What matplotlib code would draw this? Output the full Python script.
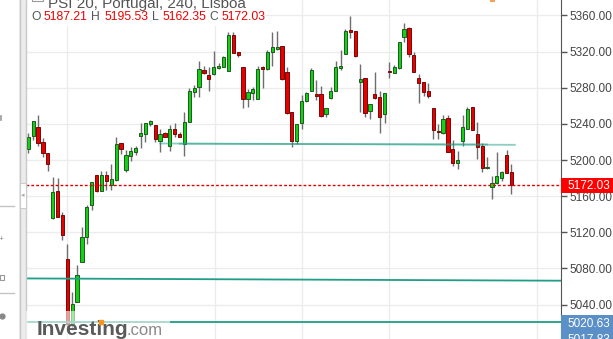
import numpy as np
import matplotlib.pyplot as plt
from matplotlib.patches import Rectangle
import matplotlib.transforms as mtransforms

plt.rcParams['font.family'] = ['Liberation Sans', 'DejaVu Sans']

# PSI 20, 240 min candles (O, H, L, C)
opens = [5211.8, 5227.1, 5236.2, 5219.4, 5207.4, 5136.2, 5165.7, 5138.8, 5090.2, 5018.0,
         5042.6, 5087.5, 5115.2, 5150.2, 5183.1, 5166.0, 5183.1, 5172.0, 5177.9, 5218.5,
         5188.9, 5204.4, 5209.2, 5226.9, 5228.4, 5239.8, 5238.7, 5221.3, 5229.5, 5215.5,
         5234.0, 5228.8, 5217.7, 5242.4, 5275.6, 5280.4, 5299.6, 5293.7, 5295.1, 5301.5,
         5303.2, 5298.8, 5338.3, 5319.1, 5302.5, 5267.8, 5274.5, 5267.5, 5301.8, 5300.7,
         5319.8, 5322.8, 5326.1, 5297.7, 5252.8, 5221.3, 5241.3, 5265.3, 5276.3, 5272.7,
         5272.7, 5250.6, 5268.3, 5276.3, 5301.5, 5316.9, 5342.7, 5342.7, 5286.0, 5290.4,
         5253.9, 5272.7, 5269.4, 5250.6, 5298.5, 5296.6, 5301.4, 5335.7, 5345.7, 5316.2,
         5290.4, 5286.0, 5276.3, 5257.2, 5231.3, 5229.5, 5246.1, 5211.8, 5197.0, 5221.3,
         5234.3, 5258.3, 5228.8, 5215.5, 5190.8, 5170.5, 5174.2, 5180.4, 5205.5, 5187.21]
highs = [5229.5, 5243.5, 5249.8, 5224.0, 5207.4, 5180.9, 5180.1, 5142.5, 5107.1, 5054.0,
         5083.9, 5125.6, 5150.2, 5175.7, 5183.5, 5188.2, 5188.2, 5195.6, 5225.8, 5219.0,
         5211.1, 5214.7, 5215.5, 5240.6, 5241.0, 5244.2, 5239.0, 5234.3, 5231.3, 5238.7,
         5240.6, 5231.3, 5253.4, 5279.3, 5283.0, 5309.5, 5304.0, 5303.2, 5320.6, 5307.6,
         5315.0, 5341.9, 5341.9, 5319.5, 5303.0, 5278.5, 5280.4, 5304.0, 5304.0, 5321.7,
         5341.9, 5342.7, 5326.5, 5303.2, 5253.0, 5240.0, 5271.9, 5275.0, 5301.5, 5288.5,
         5281.9, 5258.0, 5280.4, 5309.8, 5321.7, 5344.9, 5359.3, 5343.0, 5306.2, 5291.0,
         5262.0, 5297.7, 5276.7, 5274.2, 5308.7, 5305.1, 5330.5, 5351.2, 5347.5, 5319.1,
         5295.1, 5286.5, 5284.8, 5257.5, 5239.8, 5249.8, 5249.8, 5222.1, 5210.0, 5249.8,
         5259.0, 5258.6, 5241.7, 5218.5, 5203.7, 5182.6, 5208.5, 5187.8, 5211.1, 5195.53]
lows = [5207.4, 5222.1, 5215.5, 5203.7, 5188.2, 5134.7, 5136.6, 5111.2, 5013.0, 5012.0,
        5042.6, 5087.5, 5107.1, 5144.7, 5165.0, 5165.5, 5166.8, 5166.8, 5177.0, 5206.6,
        5187.1, 5199.2, 5205.5, 5213.6, 5220.2, 5237.9, 5220.2, 5208.5, 5225.1, 5210.3,
        5225.8, 5225.1, 5204.8, 5242.0, 5270.0, 5270.0, 5294.8, 5276.7, 5294.0, 5300.3,
        5302.7, 5298.5, 5318.0, 5313.6, 5257.2, 5258.3, 5266.4, 5267.0, 5279.3, 5300.0,
        5304.3, 5321.7, 5289.0, 5251.3, 5214.0, 5217.7, 5234.3, 5264.0, 5276.0, 5266.4,
        5247.2, 5247.2, 5267.5, 5276.0, 5299.6, 5316.9, 5334.6, 5314.3, 5252.8, 5247.2,
        5245.0, 5268.0, 5229.5, 5240.6, 5291.0, 5296.3, 5301.0, 5330.9, 5313.6, 5297.3,
        5262.7, 5271.1, 5268.9, 5222.9, 5222.9, 5229.0, 5209.0, 5193.7, 5189.7, 5215.8,
        5234.0, 5233.2, 5200.8, 5187.1, 5189.7, 5156.5, 5174.0, 5176.8, 5185.3, 5162.35]
closes = [5225.1, 5242.6, 5218.5, 5207.2, 5195.2, 5164.3, 5137.3, 5116.7, 5019.0, 5040.7,
          5072.8, 5115.2, 5147.7, 5175.3, 5166.0, 5183.1, 5176.8, 5178.6, 5217.4, 5212.5,
          5205.5, 5210.0, 5213.3, 5229.5, 5240.6, 5243.5, 5222.9, 5228.4, 5225.8, 5234.0,
          5228.4, 5225.8, 5241.7, 5276.7, 5280.0, 5300.3, 5296.6, 5289.3, 5302.5, 5304.0,
          5313.6, 5338.3, 5318.7, 5316.2, 5267.1, 5274.9, 5278.2, 5300.3, 5301.0, 5319.1,
          5324.7, 5324.7, 5289.3, 5251.7, 5221.3, 5239.8, 5265.6, 5273.8, 5299.6, 5271.1,
          5249.0, 5257.2, 5276.3, 5302.5, 5304.0, 5342.7, 5342.0, 5315.0, 5289.6, 5251.7,
          5261.6, 5268.3, 5247.2, 5273.8, 5297.0, 5302.5, 5330.2, 5344.6, 5316.9, 5297.7,
          5284.8, 5275.6, 5271.1, 5233.5, 5230.5, 5245.0, 5209.2, 5196.3, 5200.0, 5236.2,
          5256.1, 5233.5, 5214.7, 5190.8, 5191.5, 5174.2, 5182.3, 5186.4, 5186.0, 5172.03]

y_ticks = [5040, 5080, 5120, 5160, 5200, 5240, 5280, 5320, 5360]
day_lines = [8, 38.2, 56.1, 73.9, 104.2]

# drawn support lines: (x start, x end, price start, price end)
line_a = [27, 99.7, 5218.3, 5216.8]
line_b = [-0.5, 109, 5069.0, 5066.5]
support_low = 5020.63
last_close = 5172.03

W, H = 613, 339
fig = plt.figure(figsize=(W / 100, H / 100), dpi=100)
fig.patch.set_facecolor('white')

def fx(x):
    return x / W

def fy(y):
    return 1 - y / H

ax = fig.add_axes([fx(26), 0, (561 - 26) / W, 1])
ax.set_xlim(-0.47, 109.16)
ax.set_ylim(5002.0, 5377.0)

x = np.arange(len(opens))
o = np.array(opens)
c = np.array(closes)
up = c >= o

ax.set_xticks(day_lines)
ax.set_yticks(y_ticks)
ax.grid(True, color='#ececec', lw=1, zorder=0)
ax.set_axisbelow(True)
ax.tick_params(axis='x', length=0, labelbottom=False)
ax.yaxis.tick_right()
ax.set_yticklabels([f'{v:.2f}' for v in y_ticks])
ax.tick_params(axis='y', length=4, width=1, color='#555555', labelsize=8.5,
               labelcolor='#444444', pad=2)
for s in ['left', 'top', 'bottom']:
    ax.spines[s].set_visible(False)
ax.spines['right'].set_color('#555555')

# candles
ax.vlines(x, lows, highs, color='#6e6e6e', lw=1, zorder=2)
bottom = np.minimum(o, c)
height = np.maximum(np.abs(c - o), 1.4)
ax.bar(x[up], height[up], bottom=bottom[up], width=0.66, color='#12d012',
       edgecolor='#1e5a1e', linewidth=0.7, zorder=3)
ax.bar(x[~up], height[~up], bottom=bottom[~up], width=0.66, color='#e60000',
       edgecolor='#770808', linewidth=0.7, zorder=3)

# support lines
teal = '#1f9e86'
ax.plot(line_a[:2], line_a[2:], color=teal, lw=1.3, alpha=0.5, zorder=4)
ax.plot([31, 94], [5218.0, 5217.2], color=teal, lw=1.3, alpha=0.5, zorder=4)
ax.plot(line_b[:2], line_b[2:], color=teal, lw=1.3, zorder=4)
ax.axhline(support_low, color=teal, lw=1.3, zorder=4)
ax.axhline(last_close, color='#e00000', lw=1, ls=(0, (2, 1.5)), zorder=4)

# price labels on the axis
bt = mtransforms.blended_transform_factory(ax.transAxes, ax.transData)
lw_ax = 52 / 535
hh = 8.6
ax.add_patch(Rectangle((1.0, last_close - hh), lw_ax, 2 * hh, transform=bt,
                       facecolor='#ff0000', edgecolor='none', clip_on=False, zorder=6))
ax.text(1.0 + 6 / 535, last_close - 0.5, f'{last_close:.2f}', transform=bt, color='white',
        fontsize=8.5, va='center', ha='left', clip_on=False, zorder=7)
ax.add_patch(Rectangle((1.0, 4990), lw_ax, support_low + 8 - 4990, transform=bt,
                       facecolor='#5a8fc8', edgecolor='none', clip_on=False, zorder=6))
ax.text(1.0 + 6 / 535, support_low - 1.5, f'{support_low:.2f}', transform=bt, color='white',
        fontsize=8.5, va='center', ha='left', clip_on=False, zorder=7)
ax.text(1.0 + 6 / 535, 5000.5, '5017.83', transform=bt, color='white',
        fontsize=8.5, va='center', ha='left', clip_on=False, zorder=7)

# header
fig.patches.append(Rectangle((fx(26), fy(26)), (264 - 26) / W, 26 / H, transform=fig.transFigure,
                             facecolor='white', edgecolor='none', zorder=5))
fig.patches.append(Rectangle((fx(32), fy(1)), 11 / W, 10 / H, transform=fig.transFigure,
                             facecolor='white', edgecolor='#999999', lw=0.8, zorder=6))
fig.text(fx(48), fy(8), 'PSI 20, Portugal, 240, Lisboa', fontsize=11, color='#555555',
         va='baseline', zorder=7)
ohlc_text = [('O', 31, '#555555'), ('5187.21', 44, '#ee0000'), ('H', 91, '#555555'),
             ('5195.53', 104, '#ee0000'), ('L', 152, '#555555'), ('5162.35', 163, '#ee0000'),
             ('C', 209, '#555555'), ('5172.03', 222, '#ee0000')]
for t, xp, col in ohlc_text:
    fig.text(fx(xp), fy(17.5), t, fontsize=8.7, color=col, va='center', zorder=7)
fig.patches.append(Rectangle((fx(490), fy(1.5)), 5 / W, 1.5 / H, transform=fig.transFigure,
                             facecolor='#f7a05a', edgecolor='none', zorder=6))

# left toolbar
fig.patches.append(Rectangle((fx(19.3), 0), 6.4 / W, 1, transform=fig.transFigure,
                             facecolor='#ececec', edgecolor='none', zorder=5))
for xl in [19.5, 25.5]:
    fig.add_artist(plt.Line2D([fx(xl), fx(xl)], [0, 1], color='#c9c9c9', lw=1, zorder=6))
fig.patches.append(Rectangle((fx(19.5), fy(208)), 6.2 / W, 25 / H, transform=fig.transFigure,
                             facecolor='white', edgecolor='#cccccc', lw=0.8, zorder=7))
fig.text(fx(22.6), fy(195.5), '◂', fontsize=5, color='#aaaaaa', ha='center', va='center',
         zorder=8)
for yl in [206, 293]:
    fig.add_artist(plt.Line2D([0, fx(14)], [fy(yl), fy(yl)], color='#c4c4c4', lw=1, zorder=6))
fig.add_artist(plt.Line2D([fx(0.5), fx(0.5)], [fy(116), fy(120)], color='#999999', lw=1.2))
fig.text(fx(1), fy(240), '+', fontsize=6, color='#888888', ha='center', va='center')
fig.patches.append(Rectangle((0, fy(280)), 4 / W, 5 / H, transform=fig.transFigure,
                             facecolor='none', edgecolor='#999999', lw=0.8))
fig.add_artist(plt.Line2D([fx(2)], [fy(316)], marker='o', ms=3.5, color='#888888'))

# watermark
fig.patches.append(Rectangle((fx(26), 0), 144 / W, 28 / H, transform=fig.transFigure,
                             facecolor='white', alpha=0.6, edgecolor='none', zorder=8))
fig.text(fx(37), fy(335), 'Investing', fontsize=15, fontweight='bold', color='#5a5a5a',
         va='baseline', zorder=9)
fig.text(fx(126), fy(335), '.com', fontsize=12, color='#8a8a8a', va='baseline', zorder=9)
fig.add_artist(plt.Line2D([fx(101)], [fy(321.5)], marker='s', ms=2.6, color='#f7941d',
                          zorder=10))

fig.savefig('out.png', dpi=100)
